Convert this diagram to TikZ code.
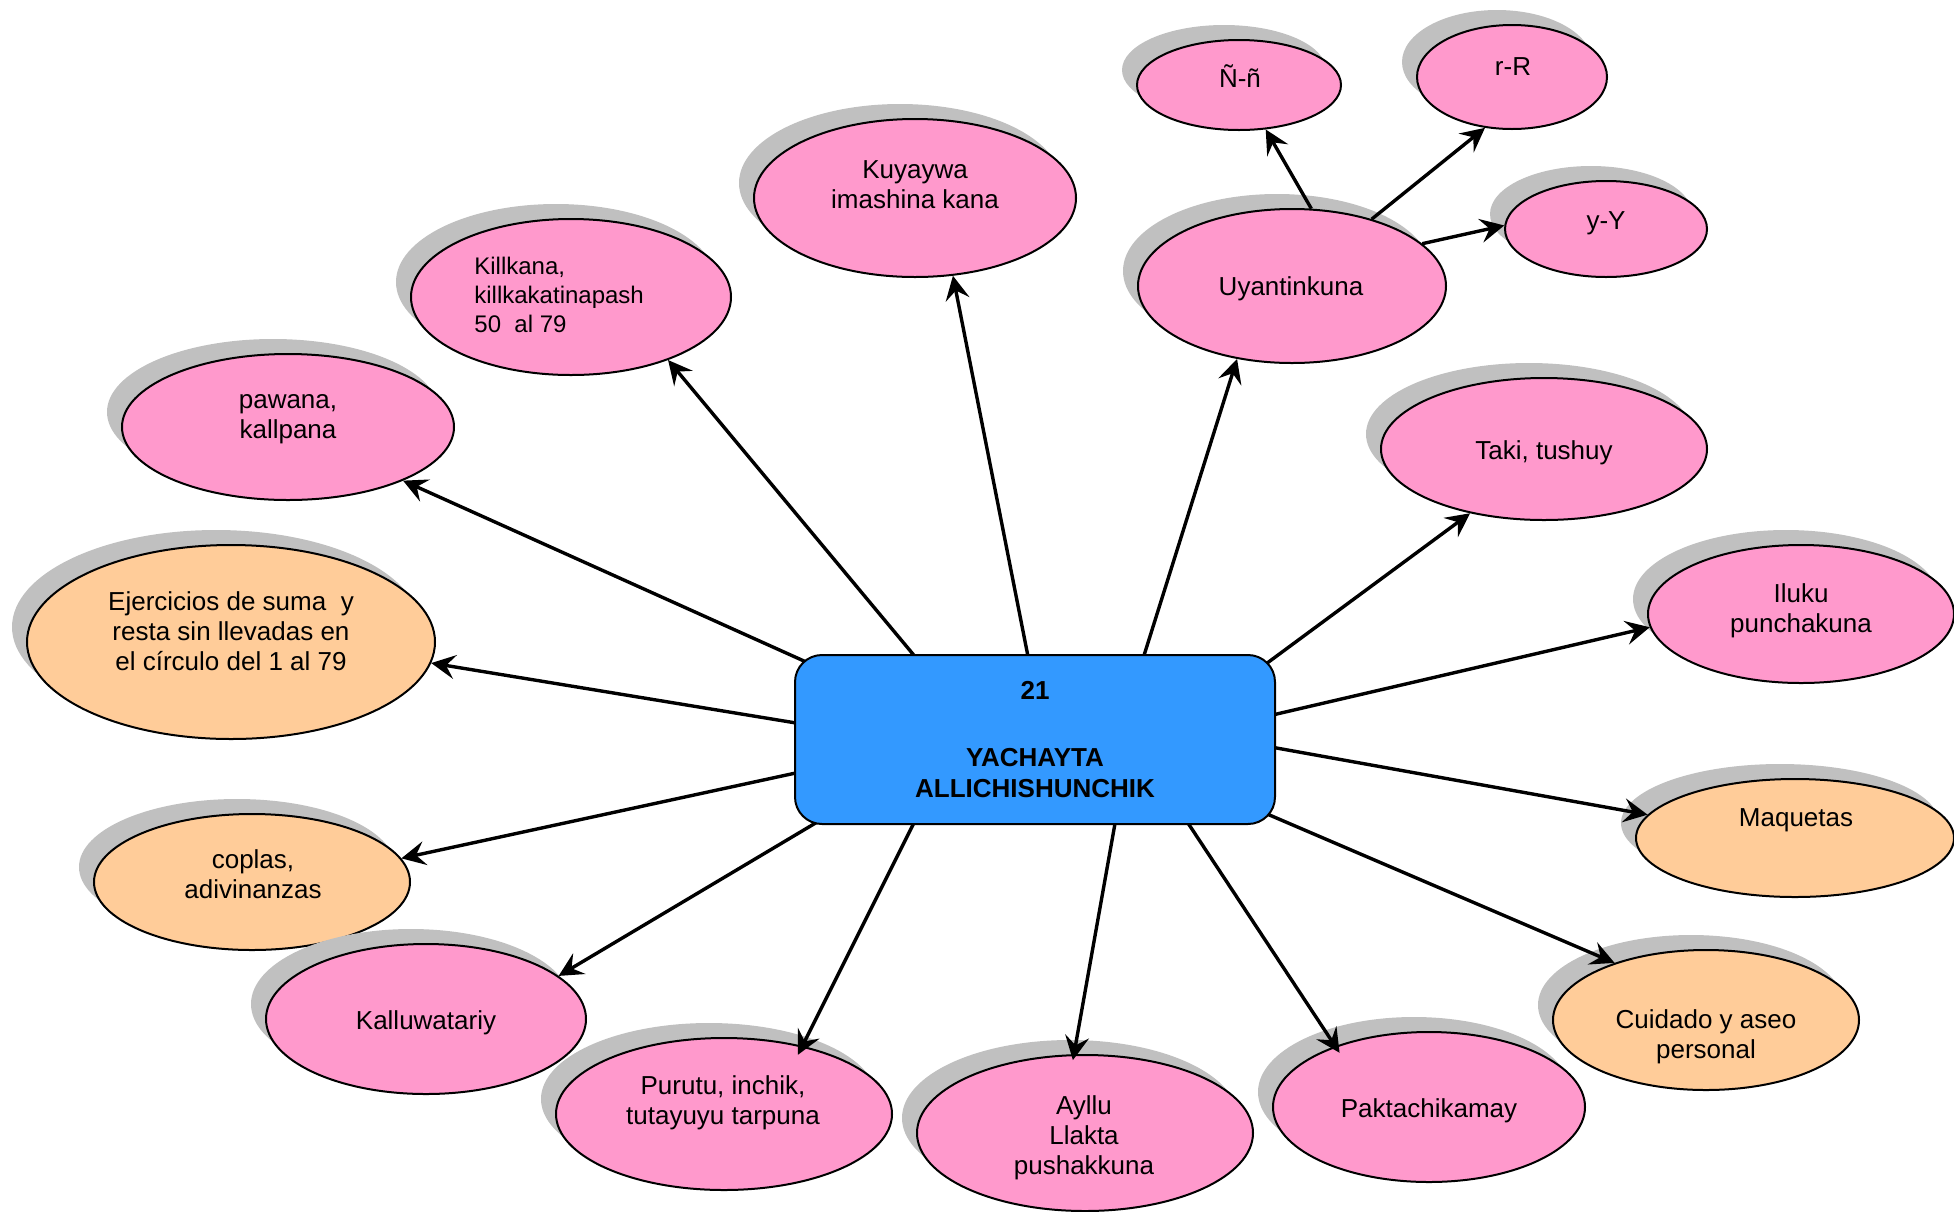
\documentclass[tikz,border=0pt]{standalone}
\usepackage{fontspec}
\setmainfont{Liberation Sans}
\usetikzlibrary{shapes.geometric,shadows,arrows.meta}
\definecolor{pinkc}{HTML}{FF99CC}
\definecolor{orangec}{HTML}{FFCC99}
\definecolor{bluec}{HTML}{3399FF}
\definecolor{shadowc}{HTML}{C0C0C0}
\pgfdeclarelayer{front}
\pgfsetlayers{main,front}
\tikzset{
  bub/.style={ellipse, draw=black, line width=1pt, inner sep=0pt,
    drop shadow={shadow xshift=-7.5pt, shadow yshift=7.5pt, fill=shadowc, opacity=1}},
  pk/.style={bub, fill=pinkc},
  og/.style={bub, fill=orangec},
  lbl/.style={align=center, font=\fontsize{13}{15}\selectfont, inner sep=0pt},
  arrs/.style={line width=1.7pt, -{Stealth[length=12pt,width=12pt,inset=4.5pt]}},
  arr/.style={arrs, shorten <=-12pt},
}
\begin{document}
\begin{tikzpicture}[x=0.5pt,y=-0.5pt]
\useasboundingbox (0,0) rectangle (1954,1211);

\begin{pgfonlayer}{front}
\node[draw=black, fill=bluec, rounded corners=13.5pt, line width=1pt, minimum width=240pt, minimum height=84.5pt, inner sep=0pt] (c) at (1035,739.5) {};
\node[font=\bfseries\fontsize{13}{15.5}\selectfont, align=center, inner sep=0pt] (ct) at (1035,740) {21\\[18pt]YACHAYTA\\ALLICHISHUNCHIK};
\end{pgfonlayer}

% ellipses
\node[pk, minimum width=102pt, minimum height=45pt] (e1) at (1239,85) {};
\node[lbl] (t1) at (1240,76) {Ñ-ñ};
\node[pk, minimum width=95pt, minimum height=52pt] (e2) at (1512,77) {};
\node[lbl] (t2) at (1513,67) {r-R};
\node[pk, minimum width=101pt, minimum height=48pt] (e3) at (1606,229) {};
\node[lbl] (t3) at (1606,223) {y-Y};
\node[pk, minimum width=154pt, minimum height=77pt] (e4) at (1292,286) {};
\node[lbl] (t4) at (1291,289) {Uyantinkuna};
\node[pk, minimum width=161pt, minimum height=79pt] (e5) at (915,198) {};
\node[lbl] (t5) at (915,185) {Kuyaywa\\imashina kana};
\node[pk, minimum width=160pt, minimum height=78pt] (e6) at (571,297) {};
\node[lbl, align=left, anchor=west, font=\fontsize{12}{14.5}\selectfont] (t6) at (474,295) {Killkana,\\killkakatinapash\\50\ \ al 79};
\node[pk, minimum width=166pt, minimum height=73pt] (e7) at (288,427) {};
\node[lbl] (t7) at (288,419) {pawana,\\kallpana};
\node[og, minimum width=204pt, minimum height=97pt] (e8) at (231,642) {};
\node[lbl] (t8) at (231,631) {Ejercicios de suma\ \ y\\resta sin llevadas en\\el círculo del 1 al 79};
\node[og, minimum width=158pt, minimum height=68pt] (e9) at (252,882) {};
\node[lbl] (t9) at (253,874) {coplas,\\adivinanzas};
\node[pk, minimum width=160pt, minimum height=75pt] (e10) at (426,1019) {};
\node[lbl] (t10) at (426,1023) {Kalluwatariy};
\node[pk, minimum width=168pt, minimum height=76pt] (e11) at (724,1114) {};
\node[lbl] (t11) at (723,1103) {Purutu, inchik,\\tutayuyu tarpuna};
\node[pk, minimum width=168pt, minimum height=78pt] (e12) at (1085,1133) {};
\node[lbl] (t12) at (1084,1138) {Ayllu\\Llakta\\pushakkuna};
\node[pk, minimum width=156pt, minimum height=75pt] (e13) at (1429,1107) {};
\node[lbl] (t13) at (1429,1111) {Paktachikamay};
\node[og, minimum width=153pt, minimum height=70pt] (e14) at (1706,1020) {};
\node[lbl] (t14) at (1706,1037) {Cuidado y aseo\\personal};
\node[og, minimum width=159pt, minimum height=59pt] (e15) at (1795,838) {};
\node[lbl] (t15) at (1796,820) {Maquetas};
\node[pk, minimum width=153pt, minimum height=69pt] (e16) at (1801,614) {};
\node[lbl] (t16) at (1801,611) {Iluku\\punchakuna};
\node[pk, minimum width=163pt, minimum height=71pt] (e17) at (1544,449) {};
\node[lbl] (t17) at (1544,453) {Taki, tushuy};

% connectors
\draw[arr] (c.176) -- (e8.-6.2);
\draw[arr] (c.161) -- (e7.-25.2);
\draw[arr] (c.145) -- (e6.-33.4);
\draw[arr] (c.95.5) -- (e5.-64.2);
\draw[arr] (c.38) -- (e4.-127.3);
\draw[arr] (c.19) -- (e17.-139.3);
\draw[arr] (c.6.7) -- (e16.185.2);
\draw[arr] (c.-2.8) -- (e15.171.3);
\draw[arr] (c.-18) -- (e14.148.7);
\draw[arr, shorten >=-4pt] (c.-29.5) -- (e13.147.1);
\draw[arr, shorten >=-3pt] (c.-47.7) -- (e12.98.2);
\draw[arr, shorten >=-5pt] (c.215.5) -- (e11.41);
\draw[arr] (c.201) -- (e10.18.8);
\draw[arr] (c.188.7) -- (e9.9.9);
\draw[arrs] (e4.76) -- (e1.-59.6);
\draw[arrs] (e4.40) -- (e2.-118.7);
\draw[arrs] (e4.18.4) -- (e3.178.7);
\end{tikzpicture}
\end{document}
